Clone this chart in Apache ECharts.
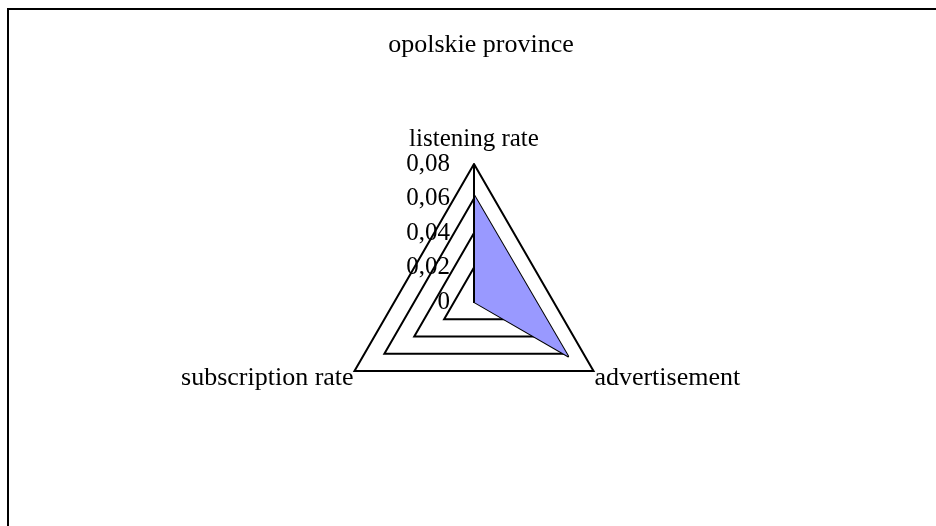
<!DOCTYPE html>
<html>
<head>
<meta charset="utf-8">
<title>opolskie province</title>
<script src="https://cdn.jsdelivr.net/npm/echarts@6/dist/echarts.min.js"></script>
<style>
  html, body { margin: 0; padding: 0; background: #fff; overflow: hidden; }
  #chart { width: 936px; height: 526px; }
  /* outer frame of the chart area, right and bottom edges run off the page */
  .frame { position: absolute; left: 7px; top: 8px; width: 1000px; height: 600px; border: 2px solid #000; pointer-events: none; }
</style>
</head>
<body>
<div id="chart"></div>
<div class="frame"></div>
<script>
// categories go counter-clockwise from the top
const categories = ['listening rate', 'subscription rate', 'advertisement'];
const values = [0.062, 0, 0.063];
const tickLabels = ['0', '0,02', '0,04', '0,06', '0,08'];
const axisMax = 0.08;
// used to draw the only visible axis line (top spoke)
const spoke = [axisMax, 0, 0];

const serif = 'Liberation Serif';

const indicators = categories.map((name, i) => ({
  name: name,
  min: 0,
  max: axisMax,
  // bottom names hang just under their corner
  nameTextStyle: i === 0 ? {} : { verticalAlign: 'top', lineHeight: 14, fontSize: 26 },
  axisLine: { show: i === 0, lineStyle: { color: '#000', width: 2 } },
  axisLabel: {
    show: i === 0,
    color: '#000',
    fontFamily: serif,
    fontSize: 25,
    margin: 24,
    padding: [8, 0, 0, 0],
    formatter: (v, idx) => tickLabels[idx]
  }
}));

const chart = echarts.init(document.getElementById('chart'));
chart.setOption({
  animation: false,
  title: {
    text: 'opolskie province',
    left: 476,
    textAlign: 'center',
    top: 27,
    textStyle: { fontFamily: serif, fontSize: 26, fontWeight: 'normal', color: '#000' }
  },
  radar: {
    center: [474, 302],
    radius: 138,
    startAngle: 90,
    splitNumber: 4,
    shape: 'polygon',
    indicator: indicators,
    nameGap: 1,
    axisName: { color: '#000', fontFamily: serif, fontSize: 25 },
    splitLine: { lineStyle: { color: '#000', width: 2 } },
    splitArea: { show: false },
    axisTick: { show: false }
  },
  series: [
    {
      type: 'radar',
      silent: true,
      symbol: 'none',
      lineStyle: { color: '#000', width: 2 },
      areaStyle: { color: '#9999FF', opacity: 1 },
      data: [{ value: values, name: 'opolskie province' }]
    },
    {
      type: 'radar',
      silent: true,
      symbol: 'none',
      lineStyle: { color: '#000', width: 2 },
      data: [{ value: spoke }]
    }
  ]
});
</script>
</body>
</html>
